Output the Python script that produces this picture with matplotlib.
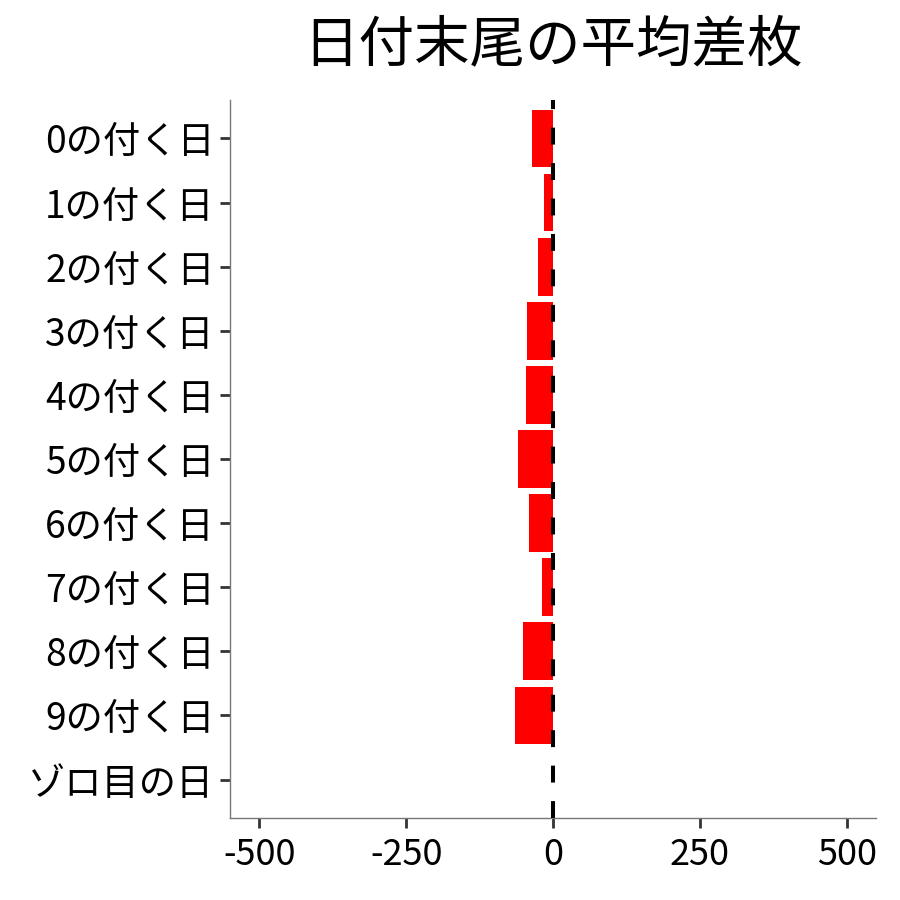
import matplotlib
matplotlib.use('Agg')
import matplotlib.pyplot as plt

plt.rcParams['font.family'] = ['Noto Sans CJK JP', 'DejaVu Sans']

# データ
labels = ['0の付く日', '1の付く日', '2の付く日', '3の付く日', '4の付く日',
          '5の付く日', '6の付く日', '7の付く日', '8の付く日', '9の付く日', 'ゾロ目の日']
values = [-36, -15, -26, -44, -46, -60, -41, -19, -51, -65, 0]
xticks = [-500, -250, 0, 250, 500]

fig = plt.figure(figsize=(9, 9), dpi=100)
ax = fig.add_axes([230/900, 82/900, 646/900, 718/900])

ypos = list(range(len(labels)))
ax.barh(ypos, values, height=0.9, color='#FF0000')
# 0の位置に破線
ax.axvline(0, color='black', lw=2.9, linestyle=(0, (4.2, 4.6)), zorder=3)

ax.set_xlim(-550, 550)
ax.set_ylim(len(labels) - 0.4, -0.6)
ax.set_yticks(ypos)
ax.set_yticklabels(labels, fontsize=26.8)
ax.set_xticks(xticks)
ax.set_xticklabels([str(t) for t in xticks], fontsize=26)

for s in ['top', 'right']:
    ax.spines[s].set_visible(False)
for s in ['left', 'bottom']:
    ax.spines[s].set_color('#777777')
    ax.spines[s].set_linewidth(1.0)
ax.tick_params(axis='both', length=7, width=2, color='#333333', labelcolor='black')
ax.tick_params(axis='x', pad=7)
ax.tick_params(axis='y', pad=4)

ax.set_title('日付末尾の平均差枚', fontsize=40, pad=28)

fig.savefig('out.png', dpi=100)
